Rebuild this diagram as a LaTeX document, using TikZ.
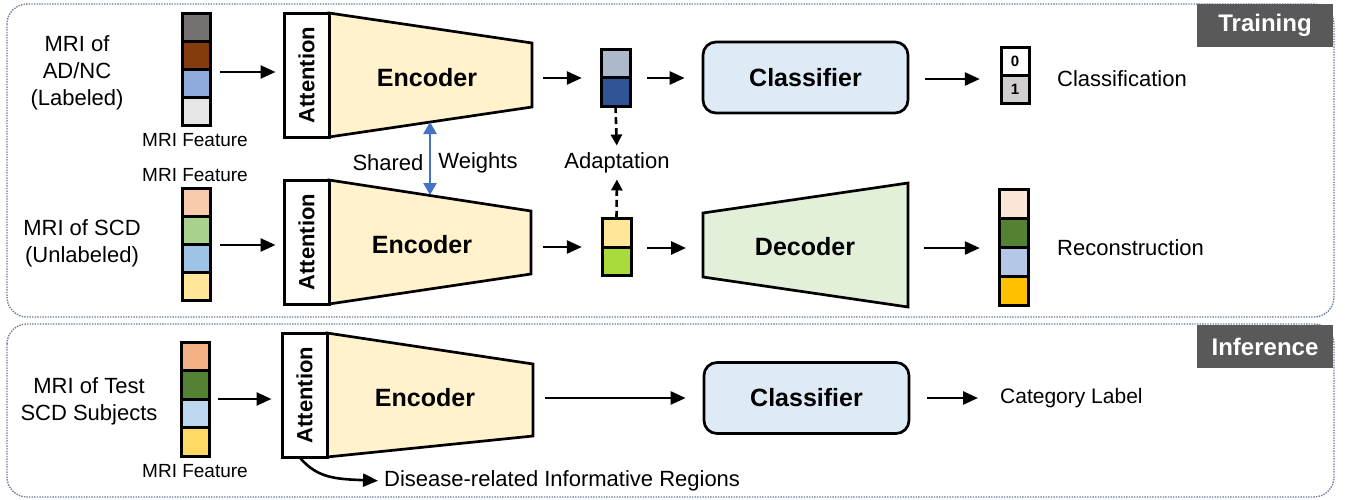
\documentclass[tikz,border=0pt]{standalone}
\usepackage{fontspec}
\setmainfont{Liberation Sans}
\usetikzlibrary{arrows.meta}
\definecolor{panelc}{HTML}{6A7C98}
\definecolor{labc}{HTML}{595959}
\definecolor{encf}{HTML}{FFF2CC}
\definecolor{decf}{HTML}{E2F0D9}
\definecolor{clsf}{HTML}{DEEBF7}
\definecolor{bluea}{HTML}{4472C4}
\definecolor{ca}{HTML}{767171}
\definecolor{cb}{HTML}{843C0C}
\definecolor{cc}{HTML}{8FAADC}
\definecolor{cd}{HTML}{E7E6E6}
\definecolor{da}{HTML}{F8CBAD}
\definecolor{db}{HTML}{A9D18E}
\definecolor{dc}{HTML}{9DC3E6}
\definecolor{dd}{HTML}{FFE699}
\definecolor{ea}{HTML}{F4B183}
\definecolor{eb}{HTML}{548235}
\definecolor{ec}{HTML}{BDD7EE}
\definecolor{ed}{HTML}{FFD966}
\definecolor{sa}{HTML}{ADB9CA}
\definecolor{sb}{HTML}{2F5597}
\definecolor{ta}{HTML}{FFE699}
\definecolor{tb}{HTML}{AADB3C}
\definecolor{oa}{HTML}{FBE5D6}
\definecolor{ob}{HTML}{548235}
\definecolor{oc}{HTML}{B4C7E7}
\definecolor{od}{HTML}{FFC000}
\definecolor{zz}{HTML}{D0CECE}
\begin{document}
\begin{tikzpicture}[x=1pt,y=-1pt,
  arr/.style={line width=2.6pt,-{Triangle[length=15pt,width=13pt]}},
  darr/.style={line width=2.6pt,dash pattern=on 7pt off 4pt,-{Triangle[length=11pt,width=11pt]}},
  barr/.style={line width=2.6pt,bluea,{Triangle[length=12pt,width=13pt]}-{Triangle[length=12pt,width=13pt]}},
  cell/.style={draw,line width=3pt},
  shp/.style={draw,line width=2.7pt,line join=miter},
  panel/.style={draw=panelc,line width=1.4pt,dash pattern=on 1.4pt off 1.2pt,rounded corners=20pt},
  lab/.style={fill=labc,text=white,font=\fontsize{24}{28}\selectfont\bfseries,inner sep=0,minimum width=136pt,minimum height=43pt},
  txt/.style={font=\fontsize{22}{27}\selectfont,inner sep=0,align=center},
  small/.style={font=\fontsize{19}{23}\selectfont,inner sep=0},
  big/.style={font=\fontsize{25}{30}\selectfont\bfseries,inner sep=0},
  attn/.style={draw,line width=3pt,fill=white,inner sep=0,minimum width=45pt,minimum height=124pt},
  attt/.style={rotate=90,font=\fontsize{22}{26}\selectfont\bfseries,inner sep=0},
  cls/.style={draw,line width=2.7pt,fill=clsf,rounded corners=13pt,inner sep=0,minimum width=205pt,minimum height=71pt,font=\fontsize{25}{30}\selectfont\bfseries},
  holder/.style={inner sep=0,minimum width=28pt}
]
\useasboundingbox (0,0) rectangle (1345,499);
% panels
\draw[panel] (7,4) rectangle (1334,317);
\draw[panel] (7,324) rectangle (1334,497);
\node[lab] (trn) at (1265,25.5) {Training};
\node[lab] (inf) at (1265,346.5) {Inference};

% ---------- Row 1 ----------
\node[txt] (in1) at (77,73) {MRI of\\AD/NC\\(Labeled)};
\foreach \c [count=\i from 0] in {ca,cb,cc,cd}
  \filldraw[fill=\c,cell] (182,13+28*\i) rectangle ++(28,28);
\node[holder,minimum height=112pt] (f1) at (196,69) {};
\node[small] (mf1) at (195,140) {MRI Feature};
\filldraw[fill=encf,shp] (329,13) -- (532,43) -- (532,107) -- (329,137) -- cycle;
\node[big] (enc1) at (427,78) {Encoder};
\coordinate (e1r) at (532,78);
\node[attn] (att1) at (306.5,75) {};
\node[attt] at (att1) {Attention};
\filldraw[fill=sa,cell] (601,49) rectangle (630,77);
\filldraw[fill=sb,cell] (601,77) rectangle (630,106);
\node[holder,minimum width=29pt,minimum height=57pt] (s1) at (615.5,77.5) {};
\node[cls] (cls1) at (805.5,77.5) {Classifier};
\filldraw[fill=white,cell] (1001,47) rectangle (1029,75);
\filldraw[fill=zz,cell] (1001,75) rectangle (1029,103);
\node[font=\fontsize{15}{18}\selectfont\bfseries,inner sep=0] at (1015,61) {0};
\node[font=\fontsize{15}{18}\selectfont\bfseries,inner sep=0] at (1015,89) {1};
\node[holder,minimum height=56pt] (o1) at (1015,75) {};
\node[txt,anchor=west] (clt) at (1057,79) {Classification};

\draw[arr,shorten <=10pt,shorten >=7pt] (f1.east |- 0,72) -- (att1.west |- 0,72);
\draw[arr,shorten <=11pt,shorten >=19pt] (e1r) -- (s1.west |- 0,78);
\draw[arr,shorten <=17pt,shorten >=17pt] (s1.east |- 0,78) -- (cls1.west |- 0,78);
\draw[arr,shorten <=16pt,shorten >=21pt] (cls1.east |- 0,79) -- (o1.west |- 0,79);

% ---------- Row 2 ----------
\node[txt] (in2) at (82,243) {MRI of SCD\\(Unlabeled)};
\node[small] (mf2) at (195,175) {MRI Feature};
\foreach \c [count=\i from 0] in {da,db,dc,dd}
  \filldraw[fill=\c,cell] (182,188+28*\i) rectangle ++(28,28);
\node[holder,minimum height=112pt] (f2) at (196,244) {};
\filldraw[fill=encf,shp] (329,180) -- (531,211) -- (531,274) -- (329,304) -- cycle;
\node[big] (enc2) at (422,245) {Encoder};
\coordinate (e2r) at (531,247);
\node[attn] (att2) at (306.5,242) {};
\node[attt] at (att2) {Attention};
\filldraw[fill=ta,cell] (602,218) rectangle (631,247);
\filldraw[fill=tb,cell] (602,247) rectangle (631,275);
\node[holder,minimum width=29pt,minimum height=57pt] (s2) at (616.5,246.5) {};
\filldraw[fill=decf,shp] (703,213) -- (908,183) -- (908,307) -- (703,277) -- cycle;
\node[big] (dec) at (805,247) {Decoder};
\coordinate (dl) at (703,248);
\coordinate (dr) at (908,248);
\foreach \c [count=\i from 0] in {oa,ob,oc,od}
  \filldraw[fill=\c,cell] (999,189+29*\i) rectangle ++(29,29);
\node[holder,minimum width=29pt,minimum height=116pt] (o2) at (1013.5,247) {};
\node[txt,anchor=west] (rct) at (1057,248) {Reconstruction};

\draw[arr,shorten <=10pt,shorten >=7pt] (f2.east |- 0,245) -- (att2.west |- 0,245);
\draw[arr,shorten <=12pt,shorten >=20pt] (e2r) -- (s2.west |- 0,247);
\draw[arr,shorten <=16pt,shorten >=17pt] (s2.east |- 0,248) -- (dl);
\draw[arr,shorten <=16pt,shorten >=19pt] (dr) -- (o2.west |- 0,248);

% adaptation
\node[txt] (adp) at (617,163) {Adaptation};
\draw[darr,shorten >=7pt] (s1.south) -- (adp.north);
\draw[darr,shorten >=6pt] (s2.north) -- (adp.south);

% shared weights
\coordinate (sw1) at (430,122);
\coordinate (sw2) at (430,195);
\draw[barr] (sw1) -- (sw2);
\node[txt] (shd) at (388,163) {Shared};
\node[txt] (wgt) at (478,163) {Weights};

% ---------- Inference ----------
\node[txt] (in3) at (89,401) {MRI of Test\\SCD Subjects};
\foreach \c [count=\i from 0] in {ea,eb,ec,ed}
  \filldraw[fill=\c,cell] (181,342+28.5*\i) rectangle ++(28,28.5);
\node[holder,minimum height=114pt] (f3) at (195,399) {};
\node[small] (mf3) at (195,471) {MRI Feature};
\filldraw[fill=encf,shp] (327,333) -- (533,364) -- (533,436) -- (327,457) -- cycle;
\node[big] (enc3) at (425,398) {Encoder};
\coordinate (e3r) at (533,398);
\node[attn] (att3) at (304.5,395) {};
\node[attt] at (att3) {Attention};
\node[cls] (cls3) at (806.5,398) {Classifier};
\node[txt,anchor=west,font=\fontsize{21}{25}\selectfont] (cat) at (1000,398) {Category Label};
\node[txt,anchor=west] (dis) at (384,481) {Disease-related Informative Regions};

\draw[arr,shorten <=9pt,shorten >=9pt] (f3.east |- 0,399) -- (att3.west |- 0,399);
\draw[arr,shorten <=12pt,shorten >=17pt] (e3r) -- (cls3.west |- 0,398);
\draw[arr,shorten <=17pt,shorten >=22pt] (cls3.east |- 0,398) -- (cat.west);
\draw[arr,shorten >=6pt] ([xshift=-4pt]att3.south) .. controls (318,478) and (335,479) .. (dis.west);
\end{tikzpicture}
\end{document}
